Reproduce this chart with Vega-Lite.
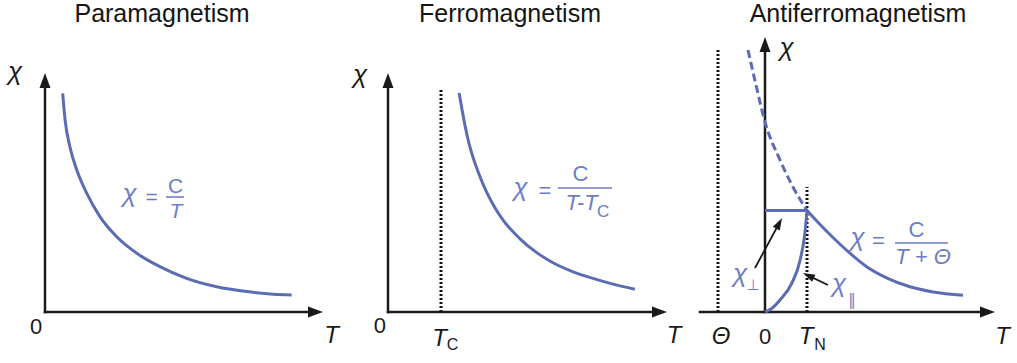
{
  "$schema": "https://vega.github.io/schema/vega-lite/v6.json",
  "background": "white",
  "padding": 0,
  "spacing": 0,
  "bounds": "flush",
  "config": {
    "view": {"stroke": null},
    "axis": {"disable": true},
    "font": "Liberation Sans",
    "concat": {"spacing": 0}
  },
  "datasets": {
    "p1_axes": [
      {"t": 0, "chi": 0, "t2": 0, "chi2": 7.72},
      {"t": 0, "chi": 0, "t2": 9.0, "chi2": 0}
    ],
    "p1_heads": [
      {"t": 0, "chi": 7.717, "dir": "up"},
      {"t": 9.017, "chi": 0, "dir": "right"}
    ],
    "p1_curve": [
      {"t": 0.59, "chi": 7.29}, {"t": 0.67, "chi": 6.4}, {"t": 0.83, "chi": 5.51},
      {"t": 1.06, "chi": 4.73}, {"t": 1.39, "chi": 3.96}, {"t": 1.83, "chi": 3.18},
      {"t": 2.39, "chi": 2.51}, {"t": 3.06, "chi": 1.96}, {"t": 3.83, "chi": 1.51},
      {"t": 4.72, "chi": 1.12}, {"t": 5.72, "chi": 0.84}, {"t": 6.72, "chi": 0.68},
      {"t": 7.61, "chi": 0.59}, {"t": 8.22, "chi": 0.57}
    ],
    "p1_bars": [{"t": 4.033, "chi": 3.833, "t2": 4.633}],
    "p1_text": [
      {"label": "Paramagnetism", "t": 3.9, "chi": 10.35, "kind": "title"},
      {"label": "χ", "t": -1.0, "chi": 7.99, "kind": "chi"},
      {"label": "T", "t": 9.55, "chi": -0.8, "kind": "var"},
      {"label": "0", "t": -0.3, "chi": -0.5, "kind": "num"},
      {"label": "χ", "t": 2.817, "chi": 3.93, "kind": "fchi"},
      {"label": "=", "t": 3.55, "chi": 3.8, "kind": "fnum"},
      {"label": "C", "t": 4.35, "chi": 4.17, "kind": "fnum"},
      {"label": "T", "t": 4.367, "chi": 3.32, "kind": "fvar"}
    ],
    "p2_axes": [
      {"t": 0, "chi": 0, "t2": 0, "chi2": 7.72},
      {"t": 0, "chi": 0, "t2": 9.05, "chi2": 0}
    ],
    "p2_heads": [
      {"t": 0, "chi": 7.717, "dir": "up"},
      {"t": 9.05, "chi": 0, "dir": "right"}
    ],
    "p2_dots": [{"t": 1.767, "chi": 0, "chi2": 7.4}],
    "p2_curve": [
      {"t": 2.37, "chi": 7.3}, {"t": 2.47, "chi": 6.73}, {"t": 2.57, "chi": 6.2},
      {"t": 2.7, "chi": 5.62}, {"t": 2.83, "chi": 5.17}, {"t": 3.07, "chi": 4.5},
      {"t": 3.3, "chi": 3.97}, {"t": 3.55, "chi": 3.5}, {"t": 3.83, "chi": 3.07},
      {"t": 4.4, "chi": 2.44}, {"t": 4.97, "chi": 1.97}, {"t": 5.5, "chi": 1.64},
      {"t": 6.17, "chi": 1.34}, {"t": 6.83, "chi": 1.12}, {"t": 7.5, "chi": 0.93},
      {"t": 8.23, "chi": 0.76}
    ],
    "p2_bars": [{"t": 5.667, "chi": 4.133, "t2": 7.467}],
    "p2_text": [
      {"label": "Ferromagnetism", "t": 4.067, "chi": 10.35, "kind": "title"},
      {"label": "χ", "t": -0.933, "chi": 7.9, "kind": "chi"},
      {"label": "0", "t": -0.267, "chi": -0.483, "kind": "num"},
      {"label": "T", "t": 1.717, "chi": -0.9, "kind": "var"},
      {"label": "C", "t": 2.15, "chi": -1.1, "kind": "sub"},
      {"label": "T", "t": 9.533, "chi": -0.8, "kind": "var"},
      {"label": "χ", "t": 4.417, "chi": 4.15, "kind": "fchi"},
      {"label": "=", "t": 5.233, "chi": 4.033, "kind": "fnum"},
      {"label": "C", "t": 6.417, "chi": 4.6, "kind": "fnum"},
      {"label": "T-T", "t": 6.45, "chi": 3.64, "kind": "fvar"},
      {"label": "C", "t": 7.17, "chi": 3.35, "kind": "fsub"}
    ],
    "p3_axes": [
      {"t": 0, "chi": 0, "t2": 0, "chi2": 8.92},
      {"t": -2.167, "chi": 0, "t2": 7.417, "chi2": 0}
    ],
    "p3_heads": [
      {"t": 0, "chi": 8.917, "dir": "up"},
      {"t": 7.417, "chi": 0, "dir": "right"}
    ],
    "p3_dots": [
      {"t": -1.567, "chi": 0, "chi2": 8.733},
      {"t": 1.4, "chi": 0, "chi2": 4.167}
    ],
    "p3_curve": [
      {"s": "above", "t": 1.4, "chi": 3.38}, {"s": "above", "t": 1.85, "chi": 2.9},
      {"s": "above", "t": 2.3, "chi": 2.45}, {"s": "above", "t": 2.83, "chi": 1.96},
      {"s": "above", "t": 3.4, "chi": 1.5}, {"s": "above", "t": 4.07, "chi": 1.13},
      {"s": "above", "t": 4.83, "chi": 0.84}, {"s": "above", "t": 5.6, "chi": 0.67},
      {"s": "above", "t": 6.6, "chi": 0.56},
      {"s": "parallel", "t": 0, "chi": 0}, {"s": "parallel", "t": 0.2, "chi": 0.1},
      {"s": "parallel", "t": 0.5, "chi": 0.4}, {"s": "parallel", "t": 0.9, "chi": 0.97},
      {"s": "parallel", "t": 1.17, "chi": 1.73}, {"s": "parallel", "t": 1.33, "chi": 2.63},
      {"s": "parallel", "t": 1.4, "chi": 3.38}
    ],
    "p3_ext": [
      {"t": -0.567, "chi": 8.733}, {"t": -0.3, "chi": 7.567}, {"t": 0, "chi": 6.333},
      {"t": 0.5, "chi": 5.067}, {"t": 0.933, "chi": 4.167}, {"t": 1.4, "chi": 3.38}
    ],
    "p3_perp": [{"t": 0, "chi": 3.38, "t2": 1.4}],
    "p3_bars": [{"t": 4.333, "chi": 2.3, "t2": 6.1}],
    "p3_pointers": [
      {"t": -0.333, "chi": 1.467, "t2": 0.472, "chi2": 2.957},
      {"t": 2.1, "chi": 0.9, "t2": 1.447, "chi2": 1.213}
    ],
    "p3_tips": [
      {"t": 0.472, "chi": 2.957, "dir": "perp"},
      {"t": 1.447, "chi": 1.213, "dir": "parallel"}
    ],
    "p3_text": [
      {"label": "Antiferromagnetism", "t": 3.1, "chi": 10.35, "kind": "title"},
      {"label": "χ", "t": 0.717, "chi": 8.8, "kind": "chi"},
      {"label": "Θ", "t": -1.467, "chi": -0.817, "kind": "var"},
      {"label": "0", "t": 0, "chi": -0.817, "kind": "num"},
      {"label": "T", "t": 1.367, "chi": -0.833, "kind": "var"},
      {"label": "N", "t": 1.833, "chi": -1.1, "kind": "sub"},
      {"label": "T", "t": 7.917, "chi": -0.833, "kind": "var"},
      {"label": "χ", "t": 3.083, "chi": 2.467, "kind": "fchi"},
      {"label": "=", "t": 3.783, "chi": 2.367, "kind": "fnum"},
      {"label": "C", "t": 5.05, "chi": 2.72, "kind": "fnum"},
      {"label": "T + Θ", "t": 5.267, "chi": 1.85, "kind": "fvar"},
      {"label": "χ", "t": -0.833, "chi": 1.283, "kind": "fchi"},
      {"label": "⊥", "t": -0.4, "chi": 0.9, "kind": "gsub"},
      {"label": "χ", "t": 2.467, "chi": 0.917, "kind": "fchi"},
      {"label": "‖", "t": 2.9, "chi": 0.4, "kind": "gsub"}
    ]
  },
  "hconcat": [
    {
      "width": 343,
      "height": 363,
      "encoding": {
        "x": {"field": "t", "type": "quantitative", "scale": {"domain": [-1.5, 9.9333], "nice": false, "zero": false}},
        "y": {"field": "chi", "type": "quantitative", "scale": {"domain": [-1.7, 10.4], "nice": false, "zero": false}}
      },
      "layer": [
        {"data": {"name": "p1_axes"}, "mark": {"type": "rule", "color": "#1a1a1a", "strokeWidth": 2.5, "strokeCap": "square"},
         "encoding": {"x2": {"field": "t2"}, "y2": {"field": "chi2"}}},
        {"data": {"name": "p1_heads"}, "transform": [{"filter": "datum.dir == 'up'"}],
         "mark": {"type": "point", "shape": "M0,-1L0.73,1L-0.73,1Z", "size": 225, "filled": true, "opacity": 1, "color": "#1a1a1a", "strokeWidth": 0}},
        {"data": {"name": "p1_heads"}, "transform": [{"filter": "datum.dir == 'right'"}],
         "mark": {"type": "point", "shape": "M0,-1L0.73,1L-0.73,1Z", "angle": 90, "size": 225, "filled": true, "opacity": 1, "color": "#1a1a1a", "strokeWidth": 0}},
        {"data": {"name": "p1_curve"}, "mark": {"type": "line", "color": "#5b6cb5", "strokeWidth": 3, "interpolate": "monotone"}},
        {"data": {"name": "p1_bars"}, "mark": {"type": "rule", "color": "#6d7dc2", "strokeWidth": 1.6},
         "encoding": {"x2": {"field": "t2"}}},
        {"data": {"name": "p1_text"}, "transform": [{"filter": "datum.kind == 'title'"}],
         "mark": {"type": "text", "fontSize": 25, "color": "#151515", "align": "center", "baseline": "top"},
         "encoding": {"text": {"field": "label"}}},
        {"data": {"name": "p1_text"}, "transform": [{"filter": "datum.kind == 'chi'"}],
         "mark": {"type": "text", "fontSize": 26, "fontStyle": "italic", "color": "#1a1a1a", "align": "center", "baseline": "middle"},
         "encoding": {"text": {"field": "label"}}},
        {"data": {"name": "p1_text"}, "transform": [{"filter": "datum.kind == 'var'"}],
         "mark": {"type": "text", "fontSize": 24, "fontStyle": "italic", "color": "#1a1a1a", "align": "center", "baseline": "middle"},
         "encoding": {"text": {"field": "label"}}},
        {"data": {"name": "p1_text"}, "transform": [{"filter": "datum.kind == 'num'"}],
         "mark": {"type": "text", "fontSize": 22, "color": "#1a1a1a", "align": "center", "baseline": "middle"},
         "encoding": {"text": {"field": "label"}}},
        {"data": {"name": "p1_text"}, "transform": [{"filter": "datum.kind == 'fchi'"}],
         "mark": {"type": "text", "fontSize": 26, "fontStyle": "italic", "color": "#6d7dc2", "align": "center", "baseline": "middle"},
         "encoding": {"text": {"field": "label"}}},
        {"data": {"name": "p1_text"}, "transform": [{"filter": "datum.kind == 'fvar'"}],
         "mark": {"type": "text", "fontSize": 21, "fontStyle": "italic", "color": "#6d7dc2", "align": "center", "baseline": "middle"},
         "encoding": {"text": {"field": "label"}}},
        {"data": {"name": "p1_text"}, "transform": [{"filter": "datum.kind == 'fnum'"}],
         "mark": {"type": "text", "fontSize": 21, "color": "#6d7dc2", "align": "center", "baseline": "middle"},
         "encoding": {"text": {"field": "label"}}}
      ]
    },
    {
      "width": 332,
      "height": 363,
      "encoding": {
        "x": {"field": "t", "type": "quantitative", "scale": {"domain": [-1.5, 9.5667], "nice": false, "zero": false}},
        "y": {"field": "chi", "type": "quantitative", "scale": {"domain": [-1.7, 10.4], "nice": false, "zero": false}}
      },
      "layer": [
        {"data": {"name": "p2_dots"}, "mark": {"type": "rule", "color": "#111111", "strokeWidth": 3, "strokeDash": [2, 2]},
         "encoding": {"y2": {"field": "chi2"}}},
        {"data": {"name": "p2_axes"}, "mark": {"type": "rule", "color": "#1a1a1a", "strokeWidth": 2.5, "strokeCap": "square"},
         "encoding": {"x2": {"field": "t2"}, "y2": {"field": "chi2"}}},
        {"data": {"name": "p2_heads"}, "transform": [{"filter": "datum.dir == 'up'"}],
         "mark": {"type": "point", "shape": "M0,-1L0.73,1L-0.73,1Z", "size": 225, "filled": true, "opacity": 1, "color": "#1a1a1a", "strokeWidth": 0}},
        {"data": {"name": "p2_heads"}, "transform": [{"filter": "datum.dir == 'right'"}],
         "mark": {"type": "point", "shape": "M0,-1L0.73,1L-0.73,1Z", "angle": 90, "size": 225, "filled": true, "opacity": 1, "color": "#1a1a1a", "strokeWidth": 0}},
        {"data": {"name": "p2_curve"}, "mark": {"type": "line", "color": "#5b6cb5", "strokeWidth": 3, "interpolate": "monotone"}},
        {"data": {"name": "p2_bars"}, "mark": {"type": "rule", "color": "#6d7dc2", "strokeWidth": 1.6},
         "encoding": {"x2": {"field": "t2"}}},
        {"data": {"name": "p2_text"}, "transform": [{"filter": "datum.kind == 'title'"}],
         "mark": {"type": "text", "fontSize": 25, "color": "#151515", "align": "center", "baseline": "top"},
         "encoding": {"text": {"field": "label"}}},
        {"data": {"name": "p2_text"}, "transform": [{"filter": "datum.kind == 'chi'"}],
         "mark": {"type": "text", "fontSize": 26, "fontStyle": "italic", "color": "#1a1a1a", "align": "center", "baseline": "middle"},
         "encoding": {"text": {"field": "label"}}},
        {"data": {"name": "p2_text"}, "transform": [{"filter": "datum.kind == 'var'"}],
         "mark": {"type": "text", "fontSize": 24, "fontStyle": "italic", "color": "#1a1a1a", "align": "center", "baseline": "middle"},
         "encoding": {"text": {"field": "label"}}},
        {"data": {"name": "p2_text"}, "transform": [{"filter": "datum.kind == 'num'"}],
         "mark": {"type": "text", "fontSize": 22, "color": "#1a1a1a", "align": "center", "baseline": "middle"},
         "encoding": {"text": {"field": "label"}}},
        {"data": {"name": "p2_text"}, "transform": [{"filter": "datum.kind == 'sub'"}],
         "mark": {"type": "text", "fontSize": 16, "color": "#1a1a1a", "align": "center", "baseline": "middle"},
         "encoding": {"text": {"field": "label"}}},
        {"data": {"name": "p2_text"}, "transform": [{"filter": "datum.kind == 'fchi'"}],
         "mark": {"type": "text", "fontSize": 26, "fontStyle": "italic", "color": "#6d7dc2", "align": "center", "baseline": "middle"},
         "encoding": {"text": {"field": "label"}}},
        {"data": {"name": "p2_text"}, "transform": [{"filter": "datum.kind == 'fvar'"}],
         "mark": {"type": "text", "fontSize": 22, "fontStyle": "italic", "color": "#6d7dc2", "align": "center", "baseline": "middle"},
         "encoding": {"text": {"field": "label"}}},
        {"data": {"name": "p2_text"}, "transform": [{"filter": "datum.kind == 'fnum'"}],
         "mark": {"type": "text", "fontSize": 22, "color": "#6d7dc2", "align": "center", "baseline": "middle"},
         "encoding": {"text": {"field": "label"}}},
        {"data": {"name": "p2_text"}, "transform": [{"filter": "datum.kind == 'fsub'"}],
         "mark": {"type": "text", "fontSize": 17, "color": "#6d7dc2", "align": "center", "baseline": "middle"},
         "encoding": {"text": {"field": "label"}}}
      ]
    },
    {
      "width": 342,
      "height": 363,
      "encoding": {
        "x": {"field": "t", "type": "quantitative", "scale": {"domain": [-3, 8.4], "nice": false, "zero": false}},
        "y": {"field": "chi", "type": "quantitative", "scale": {"domain": [-1.7, 10.4], "nice": false, "zero": false}}
      },
      "layer": [
        {"data": {"name": "p3_dots"}, "mark": {"type": "rule", "color": "#111111", "strokeWidth": 3, "strokeDash": [2, 2]},
         "encoding": {"y2": {"field": "chi2"}}},
        {"data": {"name": "p3_axes"}, "mark": {"type": "rule", "color": "#1a1a1a", "strokeWidth": 2.5, "strokeCap": "square"},
         "encoding": {"x2": {"field": "t2"}, "y2": {"field": "chi2"}}},
        {"data": {"name": "p3_heads"}, "transform": [{"filter": "datum.dir == 'up'"}],
         "mark": {"type": "point", "shape": "M0,-1L0.73,1L-0.73,1Z", "size": 225, "filled": true, "opacity": 1, "color": "#1a1a1a", "strokeWidth": 0}},
        {"data": {"name": "p3_heads"}, "transform": [{"filter": "datum.dir == 'right'"}],
         "mark": {"type": "point", "shape": "M0,-1L0.73,1L-0.73,1Z", "angle": 90, "size": 225, "filled": true, "opacity": 1, "color": "#1a1a1a", "strokeWidth": 0}},
        {"data": {"name": "p3_ext"}, "mark": {"type": "line", "color": "#5b6cb5", "strokeWidth": 3, "strokeDash": [8, 4], "interpolate": "monotone"}},
        {"data": {"name": "p3_curve"}, "mark": {"type": "line", "color": "#5b6cb5", "strokeWidth": 3, "interpolate": "monotone"},
         "encoding": {"detail": {"field": "s"}}},
        {"data": {"name": "p3_perp"}, "mark": {"type": "rule", "color": "#5b6cb5", "strokeWidth": 3},
         "encoding": {"x2": {"field": "t2"}}},
        {"data": {"name": "p3_pointers"}, "mark": {"type": "rule", "color": "#1a1a1a", "strokeWidth": 1.8},
         "encoding": {"x2": {"field": "t2"}, "y2": {"field": "chi2"}}},
        {"data": {"name": "p3_tips"}, "transform": [{"filter": "datum.dir == 'perp'"}],
         "mark": {"type": "point", "shape": "M0,-1L0.65,1L-0.65,1Z", "angle": 28.4, "size": 144, "filled": true, "opacity": 1, "color": "#1a1a1a", "strokeWidth": 0}},
        {"data": {"name": "p3_tips"}, "transform": [{"filter": "datum.dir == 'parallel'"}],
         "mark": {"type": "point", "shape": "M0,-1L0.65,1L-0.65,1Z", "angle": 295.6, "size": 144, "filled": true, "opacity": 1, "color": "#1a1a1a", "strokeWidth": 0}},
        {"data": {"name": "p3_bars"}, "mark": {"type": "rule", "color": "#6d7dc2", "strokeWidth": 1.6},
         "encoding": {"x2": {"field": "t2"}}},
        {"data": {"name": "p3_text"}, "transform": [{"filter": "datum.kind == 'title'"}],
         "mark": {"type": "text", "fontSize": 25, "color": "#151515", "align": "center", "baseline": "top"},
         "encoding": {"text": {"field": "label"}}},
        {"data": {"name": "p3_text"}, "transform": [{"filter": "datum.kind == 'chi'"}],
         "mark": {"type": "text", "fontSize": 26, "fontStyle": "italic", "color": "#1a1a1a", "align": "center", "baseline": "middle"},
         "encoding": {"text": {"field": "label"}}},
        {"data": {"name": "p3_text"}, "transform": [{"filter": "datum.kind == 'var'"}],
         "mark": {"type": "text", "fontSize": 24, "fontStyle": "italic", "color": "#1a1a1a", "align": "center", "baseline": "middle"},
         "encoding": {"text": {"field": "label"}}},
        {"data": {"name": "p3_text"}, "transform": [{"filter": "datum.kind == 'num'"}],
         "mark": {"type": "text", "fontSize": 22, "color": "#1a1a1a", "align": "center", "baseline": "middle"},
         "encoding": {"text": {"field": "label"}}},
        {"data": {"name": "p3_text"}, "transform": [{"filter": "datum.kind == 'sub'"}],
         "mark": {"type": "text", "fontSize": 16, "color": "#1a1a1a", "align": "center", "baseline": "middle"},
         "encoding": {"text": {"field": "label"}}},
        {"data": {"name": "p3_text"}, "transform": [{"filter": "datum.kind == 'fchi'"}],
         "mark": {"type": "text", "fontSize": 26, "fontStyle": "italic", "color": "#6d7dc2", "align": "center", "baseline": "middle"},
         "encoding": {"text": {"field": "label"}}},
        {"data": {"name": "p3_text"}, "transform": [{"filter": "datum.kind == 'fvar'"}],
         "mark": {"type": "text", "fontSize": 22, "fontStyle": "italic", "color": "#6d7dc2", "align": "center", "baseline": "middle"},
         "encoding": {"text": {"field": "label"}}},
        {"data": {"name": "p3_text"}, "transform": [{"filter": "datum.kind == 'fnum'"}],
         "mark": {"type": "text", "fontSize": 22, "color": "#6d7dc2", "align": "center", "baseline": "middle"},
         "encoding": {"text": {"field": "label"}}},
        {"data": {"name": "p3_text"}, "transform": [{"filter": "datum.kind == 'gsub'"}],
         "mark": {"type": "text", "fontSize": 15, "font": "DejaVu Sans", "color": "#6d7dc2", "align": "center", "baseline": "middle"},
         "encoding": {"text": {"field": "label"}}}
      ]
    }
  ]
}
